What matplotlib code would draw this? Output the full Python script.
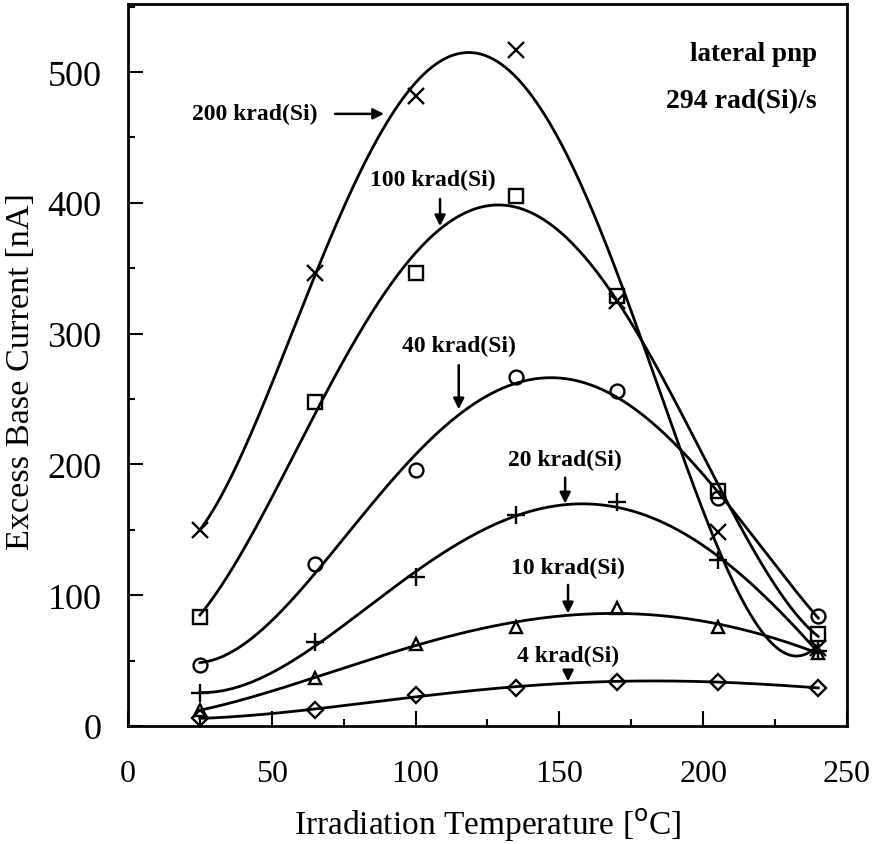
import numpy as np
import matplotlib
matplotlib.use("Agg")
import matplotlib.pyplot as plt
from matplotlib.ticker import MultipleLocator

plt.rcParams['font.family'] = ['Liberation Serif', 'DejaVu Serif']

temps = [25, 65, 100, 135, 170, 205, 240]
dose_labels = ["200 krad(Si)", "100 krad(Si)", "40 krad(Si)", "20 krad(Si)", "10 krad(Si)", "4 krad(Si)"]
i_200 = [150, 346, 482, 517, 325, 148, 60]
i_100 = [83, 248, 346, 405, 329, 180, 70]
i_40 = [47, 124, 196, 267, 256, 174, 84]
i_20 = [25, 64, 114, 161, 171, 127, 57]
i_10 = [12, 37, 63, 76, 90, 76, 56]
i_4 = [6, 12, 24, 29, 34, 34, 29]
series = [i_200, i_100, i_40, i_20, i_10, i_4]
markers = ['x', 's', 'o', '+', '^', 'D']
msizes = [11, 10, 10, 13, 9, 8]

fig = plt.figure(figsize=(8.74, 8.45), dpi=100)
ax = fig.add_axes([128/874, 1-727/845, (847-128)/874, (727-5)/845])

xs = np.linspace(25, 240, 300)
for vals, m, ms in zip(series, markers, msizes):
    coef = np.polyfit(temps, vals, 4)
    ax.plot(xs, np.polyval(coef, xs), color='black', lw=2)
    ax.plot(temps, vals, linestyle='none', marker=m, ms=ms, mfc='none', mec='black', mew=1.7)

ax.set_xlim(0, 250)
ax.set_ylim(0, 552)
ax.xaxis.set_major_locator(MultipleLocator(50))
ax.xaxis.set_minor_locator(MultipleLocator(25))
ax.yaxis.set_major_locator(MultipleLocator(100))
ax.yaxis.set_minor_locator(MultipleLocator(50))
ax.tick_params(which='major', direction='in', length=11, width=1.5)
ax.tick_params(which='minor', direction='in', length=5, width=1.5)
ax.tick_params(axis='x', which='major', labelsize=23, pad=24)
ax.tick_params(axis='y', which='major', labelsize=26, pad=19)
for s in ax.spines.values():
    s.set_linewidth(2)

ax.set_xlabel("Irradiation Temperature [$^{\\rm o}$C]", fontsize=24, labelpad=12)
ax.set_ylabel("Excess Base Current [nA]", fontsize=24.7)
ax.yaxis.set_label_coords((36 - 128) / (847 - 128), (727 - 372) / (727 - 5))

# annotations
akw = dict(arrowstyle='-|>', color='black', lw=1.8, mutation_scale=16)
tkw = dict(fontsize=17, fontweight='bold', ha='center', va='center')
ax.annotate("", xy=(90, 468), xytext=(71, 468), arrowprops=akw)
ax.text(44, 468, dose_labels[0], **tkw)
ax.text(106, 418, dose_labels[1], **tkw)
ax.annotate("", xy=(108.5, 380), xytext=(108.5, 405), arrowprops=akw)
ax.text(115, 291, dose_labels[2], **tkw)
ax.annotate("", xy=(115, 240), xytext=(115, 278), arrowprops=akw)
ax.text(152, 204, dose_labels[3], **tkw)
ax.annotate("", xy=(152, 168), xytext=(152, 192), arrowprops=akw)
ax.text(153, 121, dose_labels[4], **tkw)
ax.annotate("", xy=(153, 84), xytext=(153, 110), arrowprops=akw)
ax.text(153, 54, dose_labels[5], **tkw)
ax.annotate("", xy=(153, 32), xytext=(153, 43), arrowprops=akw)

ax.text(239.5, 514, "lateral pnp", fontsize=19.5, fontweight='bold', ha='right', va='center')
ax.text(239.5, 478, "294 rad(Si)/s", fontsize=20, fontweight='bold', ha='right', va='center')

fig.savefig("out.png", dpi=100)
